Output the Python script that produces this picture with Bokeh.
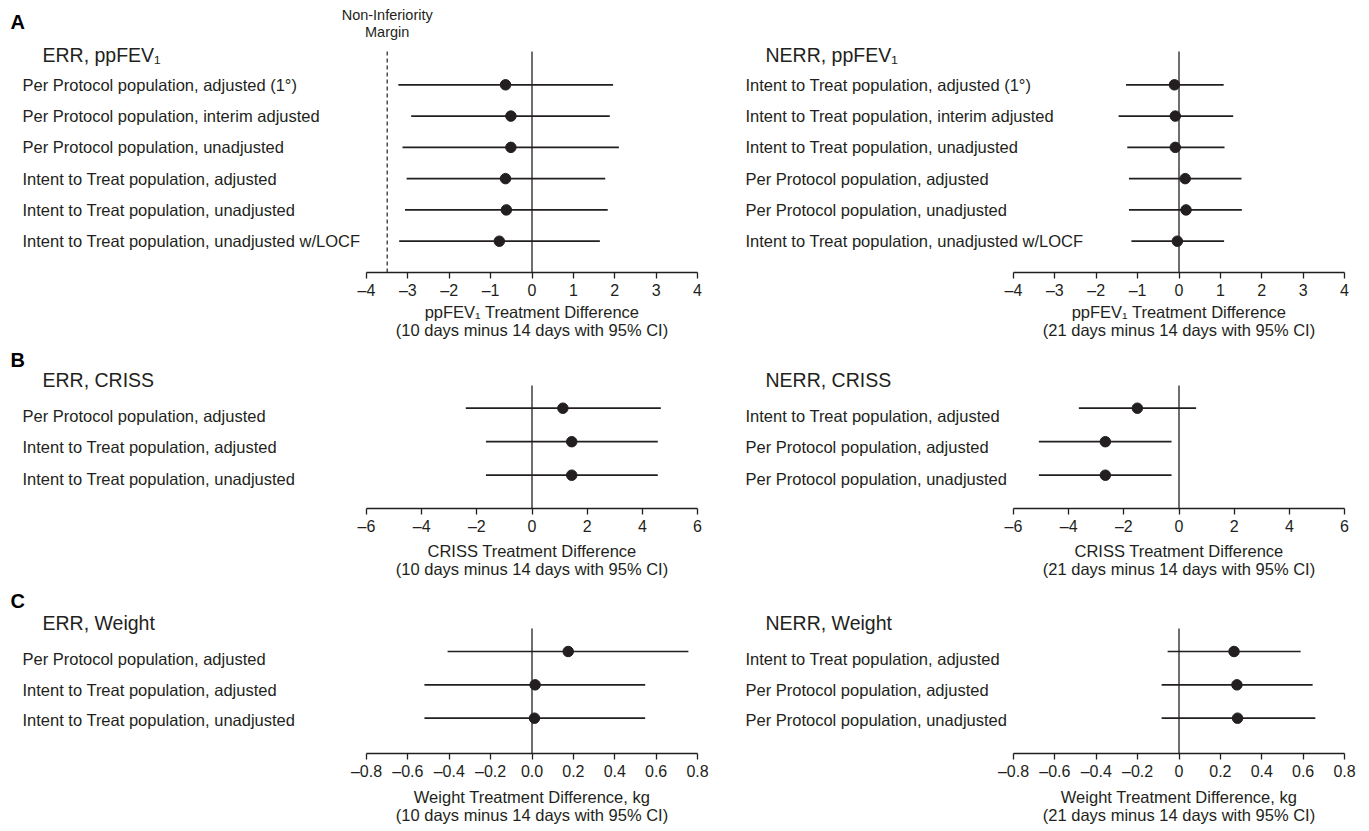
from bokeh.plotting import figure
from bokeh.models import Range1d, FixedTicker, ColumnDataSource
from bokeh.layouts import column, row
from bokeh.core.properties import value
from bokeh.embed import file_html
from bokeh.resources import INLINE

FONT = "Liberation Sans"
INK = "#231f20"

# ---------------- data ----------------
err_fev_labels = [
    "Per Protocol population, adjusted (1°)",
    "Per Protocol population, interim adjusted",
    "Per Protocol population, unadjusted",
    "Intent to Treat population, adjusted",
    "Intent to Treat population, unadjusted",
    "Intent to Treat population, unadjusted w/LOCF",
]
err_fev_est = [-0.64, -0.51, -0.51, -0.64, -0.62, -0.79]
err_fev_lo = [-3.23, -2.92, -3.13, -3.03, -3.07, -3.21]
err_fev_hi = [1.96, 1.88, 2.10, 1.77, 1.83, 1.64]

nerr_fev_labels = [
    "Intent to Treat population, adjusted (1°)",
    "Intent to Treat population, interim adjusted",
    "Intent to Treat population, unadjusted",
    "Per Protocol population, adjusted",
    "Per Protocol population, unadjusted",
    "Intent to Treat population, unadjusted w/LOCF",
]
nerr_fev_est = [-0.11, -0.09, -0.09, 0.15, 0.17, -0.04]
nerr_fev_lo = [-1.28, -1.46, -1.25, -1.21, -1.21, -1.15]
nerr_fev_hi = [1.08, 1.31, 1.10, 1.51, 1.52, 1.09]

err_criss_labels = [
    "Per Protocol population, adjusted",
    "Intent to Treat population, adjusted",
    "Intent to Treat population, unadjusted",
]
err_criss_est = [1.12, 1.44, 1.44]
err_criss_lo = [-2.40, -1.67, -1.67]
err_criss_hi = [4.67, 4.56, 4.56]

nerr_criss_labels = [
    "Intent to Treat population, adjusted",
    "Per Protocol population, adjusted",
    "Per Protocol population, unadjusted",
]
nerr_criss_est = [-1.51, -2.67, -2.67]
nerr_criss_lo = [-3.63, -5.08, -5.08]
nerr_criss_hi = [0.62, -0.27, -0.27]

err_wt_labels = [
    "Per Protocol population, adjusted",
    "Intent to Treat population, adjusted",
    "Intent to Treat population, unadjusted",
]
err_wt_est = [0.175, 0.015, 0.012]
err_wt_lo = [-0.408, -0.52, -0.52]
err_wt_hi = [0.756, 0.547, 0.547]

nerr_wt_labels = [
    "Intent to Treat population, adjusted",
    "Per Protocol population, adjusted",
    "Per Protocol population, unadjusted",
]
nerr_wt_est = [0.266, 0.280, 0.283]
nerr_wt_lo = [-0.055, -0.084, -0.084]
nerr_wt_hi = [0.588, 0.646, 0.659]

fev_ticks = [-4, -3, -2, -1, 0, 1, 2, 3, 4]
fev_tick_labels = ["–4", "–3", "–2", "–1", "0", "1", "2", "3", "4"]
criss_ticks = [-6, -4, -2, 0, 2, 4, 6]
criss_tick_labels = ["–6", "–4", "–2", "0", "2", "4", "6"]
wt_ticks = [-0.8, -0.6, -0.4, -0.2, 0, 0.2, 0.4, 0.6, 0.8]
wt_tick_labels_left = ["–0.8", "–0.6", "–0.4", "–0.2", "0.0", "0.2", "0.4", "0.6", "0.8"]
wt_tick_labels_right = ["–0.8", "–0.6", "–0.4", "–0.2", "0", "0.2", "0.4", "0.6", "0.8"]

fev_axis_left = ["ppFEV₁ Treatment Difference", "(10 days minus 14 days with 95% CI)"]
fev_axis_right = ["ppFEV₁ Treatment Difference", "(21 days minus 14 days with 95% CI)"]
criss_axis_left = ["CRISS Treatment Difference", "(10 days minus 14 days with 95% CI)"]
criss_axis_right = ["CRISS Treatment Difference", "(21 days minus 14 days with 95% CI)"]
wt_axis_left = ["Weight Treatment Difference, kg", "(10 days minus 14 days with 95% CI)"]
wt_axis_right = ["Weight Treatment Difference, kg", "(21 days minus 14 days with 95% CI)"]

non_inferiority_margin = -3.5
margin_text = ["Non-Inferiority", "Margin"]

LABEL_SIZE = "16.5px"
TICK_SIZE = "16px"
AXIS_SIZE = "16.5px"
TITLE_SIZE = "19.5px"

# ---------------- layout geometry (pixels) ----------------
COLS = {
    "left": dict(fig_left=0, width=713, br=16, t_left=366, t_right=697,
                 label_x=22, title_x=42, letter_x=10),
    "right": dict(fig_left=713, width=648, br=17, t_left=1013, t_right=1344,
                  label_x=745, title_x=765, letter_x=None),
}
ROWS = {
    "A": dict(top=0, axis=272, row1=240.7, pitch=31.28, zero_top=51, bb=32,
              title_y=54, letter_y=21, labels=None, lab_h=42,
              axis_lines=[311, 329]),
    "B": dict(top=346, axis=508, row1=474.7, pitch=33.5, zero_top=385, bb=32,
              title_y=379, letter_y=359, labels=[415, 446.5, 478], lab_h=42,
              axis_lines=[550, 568]),
    "C": dict(top=582, axis=753, row1=717.7, pitch=33.35, zero_top=628, bb=32,
              title_y=622.5, letter_y=600, labels=[658.5, 689, 719.5], lab_h=42,
              axis_lines=[796, 814]),
}


def x_geometry(side, ticks):
    c = COLS[side]
    t0, t1 = ticks[0], ticks[-1]
    ppu = (c["t_right"] - c["t_left"]) / (t1 - t0)
    x_start = t0 - (c["t_left"] - c["fig_left"]) / ppu
    return c, t0, t1, ppu, x_start


def make_panel(labels, est, lo, hi, ticks, tick_labels, title, side,
               rowkey, letter=None, margin=None):
    c, t0, t1, ppu, x_start = x_geometry(side, ticks)
    g = ROWS[rowkey]

    def to_x(px):
        return t0 + (px - c["t_left"]) / ppu

    y_start = 1 - (g["axis"] - g["row1"]) / g["pitch"]
    y_end = y_start + (g["axis"] - g["top"]) / g["pitch"]

    def to_y(px):
        return y_start + (g["axis"] - px) / g["pitch"]

    height = int(round(g["axis"] - g["top"] + g["bb"]))
    p = figure(width=c["width"], height=height,
               x_range=Range1d(x_start, t1), y_range=Range1d(y_start, y_end),
               output_backend="svg", toolbar_location=None,
               y_axis_location=None,
               min_border_left=0, min_border_right=c["br"],
               min_border_top=0, min_border_bottom=g["bb"],
               outline_line_color=None)
    p.grid.visible = False

    n = len(labels)
    ys = [n - i for i in range(n)]
    src = ColumnDataSource(dict(y=ys, est=est, lo=lo, hi=hi))

    # reference line at zero difference
    p.segment(x0=[0], y0=[y_start], x1=[0], y1=[to_y(g["zero_top"])],
              line_color=INK, line_width=1.3)
    if margin is not None:
        p.segment(x0=[margin], y0=[y_start], x1=[margin],
                  y1=[to_y(g["zero_top"] - 1)], line_color=INK,
                  line_width=1.2, line_dash="4 3")
        p.text(x=[margin, margin], y=[to_y(14), to_y(31)], text=margin_text,
               text_align="center", text_baseline="middle",
               text_font=value(FONT), text_font_size=value("14.5px"),
               text_color=INK)

    p.segment(x0="lo", y0="y", x1="hi", y1="y", source=src,
              line_color=INK, line_width=1.7)
    p.scatter(x="est", y="y", source=src, size=10.5,
              fill_color=INK, line_color=INK)

    label_ys = ys if g["labels"] is None else [to_y(v) for v in g["labels"]]
    p.text(x=[to_x(c["label_x"])] * n, y=label_ys, text=labels,
           text_align="left", text_baseline="middle", text_font=value(FONT),
           text_font_size=value(LABEL_SIZE), text_color=INK)

    p.text(x=[to_x(c["title_x"])], y=[to_y(g["title_y"])], text=[title],
           text_align="left", text_baseline="middle", text_font=value(FONT),
           text_font_size=value(TITLE_SIZE), text_color=INK)
    if letter is not None:
        p.text(x=[to_x(c["letter_x"])], y=[to_y(g["letter_y"])], text=[letter],
               text_align="left", text_baseline="middle",
               text_font=value(FONT), text_font_size=value("20px"),
               text_font_style="bold", text_color="#000000")

    ax = p.xaxis[0]
    ax.bounds = (t0, t1)
    ax.ticker = FixedTicker(ticks=ticks)
    ax.major_label_overrides = dict(zip(ticks, tick_labels))
    ax.major_label_text_font = FONT
    ax.major_label_text_font_size = TICK_SIZE
    ax.major_label_text_color = INK
    ax.major_label_standoff = 3
    ax.axis_line_color = INK
    ax.axis_line_width = 1.3
    ax.major_tick_line_color = INK
    ax.major_tick_line_width = 1.3
    ax.major_tick_in = 0
    ax.major_tick_out = 6
    ax.minor_tick_line_color = None
    return p


def make_axis_title(lines, ticks, side, rowkey):
    c, t0, t1, ppu, x_start = x_geometry(side, ticks)
    g = ROWS[rowkey]
    top = g["axis"] + g["bb"]
    h = g["lab_h"]
    p = figure(width=c["width"], height=h,
               x_range=Range1d(x_start, t1), y_range=Range1d(top + h, top),
               output_backend="svg", toolbar_location=None,
               x_axis_location=None, y_axis_location=None,
               min_border_left=0, min_border_right=c["br"],
               min_border_top=0, min_border_bottom=0,
               outline_line_color=None)
    p.grid.visible = False
    xc = (t0 + t1) / 2
    p.text(x=[xc] * len(lines), y=g["axis_lines"], text=lines,
           text_align="center", text_baseline="middle", text_font=value(FONT),
           text_font_size=value(AXIS_SIZE), text_color=INK)
    return p


pA1 = make_panel(err_fev_labels, err_fev_est, err_fev_lo, err_fev_hi,
                 fev_ticks, fev_tick_labels, "ERR, ppFEV₁", "left", "A",
                 letter="A", margin=non_inferiority_margin)
pA2 = make_panel(nerr_fev_labels, nerr_fev_est, nerr_fev_lo, nerr_fev_hi,
                 fev_ticks, fev_tick_labels, "NERR, ppFEV₁", "right", "A")
tA1 = make_axis_title(fev_axis_left, fev_ticks, "left", "A")
tA2 = make_axis_title(fev_axis_right, fev_ticks, "right", "A")

pB1 = make_panel(err_criss_labels, err_criss_est, err_criss_lo, err_criss_hi,
                 criss_ticks, criss_tick_labels, "ERR, CRISS", "left", "B",
                 letter="B")
pB2 = make_panel(nerr_criss_labels, nerr_criss_est, nerr_criss_lo, nerr_criss_hi,
                 criss_ticks, criss_tick_labels, "NERR, CRISS", "right", "B")
tB1 = make_axis_title(criss_axis_left, criss_ticks, "left", "B")
tB2 = make_axis_title(criss_axis_right, criss_ticks, "right", "B")

pC1 = make_panel(err_wt_labels, err_wt_est, err_wt_lo, err_wt_hi,
                 wt_ticks, wt_tick_labels_left, "ERR, Weight", "left", "C",
                 letter="C")
pC2 = make_panel(nerr_wt_labels, nerr_wt_est, nerr_wt_lo, nerr_wt_hi,
                 wt_ticks, wt_tick_labels_right, "NERR, Weight", "right", "C")
tC1 = make_axis_title(wt_axis_left, wt_ticks, "left", "C")
tC2 = make_axis_title(wt_axis_right, wt_ticks, "right", "C")

layout = column(row(pA1, pA2, spacing=0), row(tA1, tA2, spacing=0),
                row(pB1, pB2, spacing=0), row(tB1, tB2, spacing=0),
                row(pC1, pC2, spacing=0), row(tC1, tC2, spacing=0),
                spacing=0)

open("out.html", "w").write(file_html(layout, INLINE))
